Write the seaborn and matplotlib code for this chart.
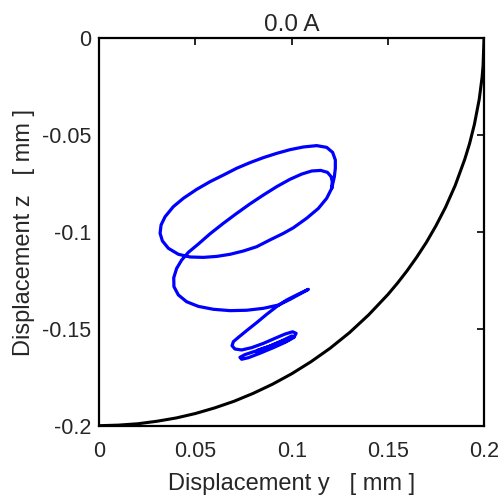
import numpy as np
import pandas as pd
import seaborn as sns
import matplotlib.pyplot as plt
from matplotlib.ticker import FixedLocator, FixedFormatter

# black boundary arc
arc_y = [0, 0.01, 0.02, 0.03, 0.04, 0.05, 0.06, 0.07, 0.08, 0.09, 0.1, 0.11, 0.12,
         0.13, 0.14, 0.15, 0.155, 0.16, 0.165, 0.17, 0.175, 0.18, 0.185, 0.19,
         0.1925, 0.195, 0.1975, 0.199, 0.1995, 0.2]
arc_z = [-0.2, -0.1997, -0.199, -0.1977, -0.196, -0.1937, -0.1908, -0.1874, -0.1833,
         -0.1786, -0.1732, -0.167, -0.16, -0.152, -0.1428, -0.1323, -0.1264, -0.12,
         -0.113, -0.1054, -0.0968, -0.0872, -0.076, -0.0624, -0.0543, -0.0444,
         -0.0315, -0.02, -0.0141, 0.0]

# blue trajectory: big loop, inner loop + C, small loops
big_y = [0.1208, 0.1182, 0.1139, 0.1078, 0.1009, 0.0957, 0.0887, 0.0818, 0.0749, 0.0680,
         0.0610, 0.0541, 0.0472, 0.0411, 0.0359, 0.0328, 0.0316, 0.0321, 0.0342, 0.0385,
         0.0437, 0.0506, 0.0576, 0.0645, 0.0714, 0.0783, 0.0853, 0.0922, 0.0991, 0.1061,
         0.1130, 0.1182, 0.1213, 0.1227, 0.1227, 0.1222, 0.1213, 0.1208]
big_z = [-0.0775, -0.0826, -0.0878, -0.0929, -0.0978, -0.1007, -0.1041, -0.1076, -0.1098, -0.1115,
         -0.1126, -0.1131, -0.1129, -0.1115, -0.1084, -0.1046, -0.1007, -0.0964, -0.0921, -0.0869,
         -0.0826, -0.0780, -0.0740, -0.0706, -0.0671, -0.0642, -0.0616, -0.0594, -0.0575, -0.0561,
         -0.0554, -0.0563, -0.0589, -0.0628, -0.0671, -0.0714, -0.0754, -0.0775]

inner_y = [0.1211, 0.1205, 0.1186, 0.1151, 0.1104, 0.1052, 0.0991, 0.0922, 0.0853, 0.0783,
           0.0714, 0.0645, 0.0576, 0.0515, 0.0463, 0.0428, 0.0402, 0.0387, 0.0388, 0.0411,
           0.0454, 0.0515, 0.0593, 0.0680, 0.0766, 0.0853, 0.0931, 0.0991, 0.1043, 0.1087]
inner_z = [-0.0740, -0.0714, -0.0692, -0.0682, -0.0685, -0.0701, -0.0728, -0.0766, -0.0809, -0.0855,
           -0.0904, -0.0955, -0.1009, -0.1062, -0.1105, -0.1145, -0.1188, -0.1236, -0.1282, -0.1325,
           -0.1360, -0.1384, -0.1399, -0.1406, -0.1404, -0.1394, -0.1377, -0.1348, -0.1320, -0.1296]

small_y = [0.1026, 0.0974, 0.0922, 0.0870, 0.0818, 0.0766, 0.0723, 0.0697, 0.0690, 0.0705,
           0.0740, 0.0792, 0.0853, 0.0913, 0.0965, 0.1005, 0.1023, 0.1012, 0.0965, 0.0905,
           0.0835, 0.0775, 0.0740, 0.0731, 0.0757, 0.0818, 0.0887, 0.0957, 0.1000, 0.1012,
           0.0983, 0.0922, 0.0861, 0.0818, 0.0827, 0.0879, 0.0939, 0.0983, 0.0965, 0.0913,
           0.0887]
small_z = [-0.1325, -0.1351, -0.1385, -0.1425, -0.1468, -0.1509, -0.1544, -0.1566, -0.1587, -0.1604,
           -0.1609, -0.1597, -0.1575, -0.1549, -0.1527, -0.1515, -0.1523, -0.1544, -0.1570, -0.1597,
           -0.1626, -0.1649, -0.1657, -0.1647, -0.1633, -0.1613, -0.1589, -0.1558, -0.1537, -0.1540,
           -0.1558, -0.1583, -0.1606, -0.1620, -0.1609, -0.1592, -0.1568, -0.1551, -0.1566, -0.1587,
           -0.1592]

x_ticks = [0, 0.05, 0.1, 0.15, 0.2]
x_labels = ['0', '0.05', '0.1', '0.15', '0.2']
y_ticks = [-0.2, -0.15, -0.1, -0.05, 0]
y_labels = ['-0.2', '-0.15', '-0.1', '-0.05', '0']

traj = pd.DataFrame({'y': big_y + inner_y + small_y, 'z': big_z + inner_z + small_z})

sns.set_theme(style="white")
plt.rcParams['font.family'] = ['Liberation Sans', 'DejaVu Sans']
text_col = '#262626'

fig = plt.figure(figsize=(4.99, 4.95), dpi=100)
ax = fig.add_axes([0.199, 0.140, 0.771, 0.7826])

sns.lineplot(x=arc_y, y=arc_z, sort=False, estimator=None, color='black', lw=2.2, ax=ax)
sns.lineplot(data=traj, x='y', y='z', sort=False, estimator=None, color='#0000ff', lw=2.3,
             ax=ax, solid_joinstyle='round', solid_capstyle='round')

ax.set_xlim(0, 0.2)
ax.set_ylim(-0.2, 0)
ax.xaxis.set_major_locator(FixedLocator(x_ticks))
ax.xaxis.set_major_formatter(FixedFormatter(x_labels))
ax.yaxis.set_major_locator(FixedLocator(y_ticks))
ax.yaxis.set_major_formatter(FixedFormatter(y_labels))
ax.tick_params(direction='in', length=5, width=1.2, top=True, right=True,
               labelsize=15.5, colors='black', labelcolor=text_col)
ax.tick_params(axis='x', pad=11)
ax.tick_params(axis='y', pad=6)
for s in ax.spines.values():
    s.set_color('black')
    s.set_linewidth(1.6)

ax.set_xlabel('Displacement y   [ mm ]', fontsize=17, color=text_col, labelpad=8)
ax.set_ylabel('Displacement z   [ mm ]', fontsize=17, color=text_col, labelpad=5)
ax.set_title('0.0 A', fontsize=17.5, color=text_col, pad=5)

fig.savefig('out.png', dpi=100)
